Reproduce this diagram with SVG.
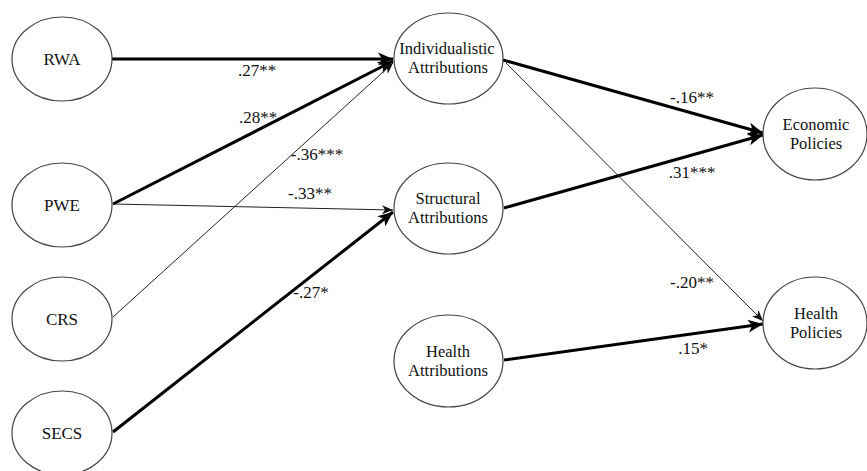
<svg xmlns="http://www.w3.org/2000/svg" width="867" height="471" viewBox="0 0 867 471">
<style>
.node ellipse{fill:#fff;stroke:#444;stroke-width:1.2}
.node text{font-family:"Liberation Serif","Times New Roman",serif;font-size:17px;fill:#111;text-anchor:middle}
.node text.two{font-size:16.5px}
.thick{stroke:#000;stroke-width:3;fill:none}
.thin{stroke:#222;stroke-width:1;fill:none}
.lbl{font-family:"Liberation Serif","Times New Roman",serif;font-size:17px;fill:#111;text-anchor:middle}
</style>
<defs>
<marker id="ah" markerUnits="userSpaceOnUse" markerWidth="16" markerHeight="14" refX="15" refY="7" orient="auto">
<path d="M0,0.5 L15,7 L0,13.5 L4,7 Z" fill="#000"/>
</marker>
<marker id="ahs" markerUnits="userSpaceOnUse" markerWidth="12" markerHeight="10" refX="11" refY="5" orient="auto">
<path d="M0,0.5 L11,5 L0,9.5 L3,5 Z" fill="#111"/>
</marker>
</defs>
<rect width="867" height="471" fill="#fff"/>
<g id="connectors">
<line class="thick" x1="112" y1="59" x2="393" y2="59" marker-end="url(#ah)"/>
<line class="thick" x1="113" y1="204" x2="393" y2="61" marker-end="url(#ah)"/>
<line class="thin" x1="113" y1="317" x2="393" y2="63" marker-end="url(#ahs)"/>
<line class="thin" x1="113" y1="204" x2="393" y2="210" marker-end="url(#ahs)"/>
<line class="thick" x1="113" y1="432" x2="393" y2="212" marker-end="url(#ah)"/>
<line class="thick" x1="503" y1="60" x2="763" y2="133" marker-end="url(#ah)"/>
<line class="thick" x1="504" y1="208" x2="763" y2="135" marker-end="url(#ah)"/>
<line class="thin" x1="506" y1="63" x2="763" y2="321" marker-end="url(#ahs)"/>
<line class="thick" x1="504" y1="360" x2="763" y2="324" marker-end="url(#ah)"/>
<text class="lbl" x="257" y="76">.27**</text>
<text class="lbl" x="258" y="123">.28**</text>
<text class="lbl" x="317" y="160">-.36***</text>
<text class="lbl" x="310" y="199">-.33**</text>
<text class="lbl" x="311" y="298">-.27*</text>
<text class="lbl" x="692" y="103">-.16**</text>
<text class="lbl" x="692" y="178">.31***</text>
<text class="lbl" x="692" y="288">-.20**</text>
<text class="lbl" x="693" y="354">.15*</text>
</g>
<g id="RWA" class="node"><ellipse cx="62" cy="59" rx="50" ry="42"/><text x="62" y="65">RWA</text></g>
<g id="PWE" class="node"><ellipse cx="62" cy="205" rx="50" ry="42"/><text x="62" y="211">PWE</text></g>
<g id="CRS" class="node"><ellipse cx="62" cy="319" rx="50" ry="42"/><text x="62" y="325">CRS</text></g>
<g id="SECS" class="node"><ellipse cx="62" cy="433" rx="50" ry="42"/><text x="62" y="439">SECS</text></g>
<g id="Individualistic" class="node"><ellipse cx="448.5" cy="58.5" rx="54.5" ry="45.5"/><text class="two" x="447" y="54">Individualistic</text><text class="two" x="448" y="73">Attributions</text></g>
<g id="Structural" class="node"><ellipse cx="448.5" cy="208.5" rx="54.5" ry="45.5"/><text class="two" x="448" y="204">Structural</text><text class="two" x="448" y="223">Attributions</text></g>
<g id="HealthAttr" class="node"><ellipse cx="448.5" cy="361" rx="54.5" ry="46"/><text class="two" x="448" y="357">Health</text><text class="two" x="448" y="376">Attributions</text></g>
<g id="Economic" class="node"><ellipse cx="815" cy="134" rx="52" ry="46"/><text class="two" x="816" y="130">Economic</text><text class="two" x="816" y="149">Policies</text></g>
<g id="HealthPol" class="node"><ellipse cx="815" cy="323" rx="52" ry="46"/><text class="two" x="816" y="319">Health</text><text class="two" x="816" y="338">Policies</text></g>
</svg>
